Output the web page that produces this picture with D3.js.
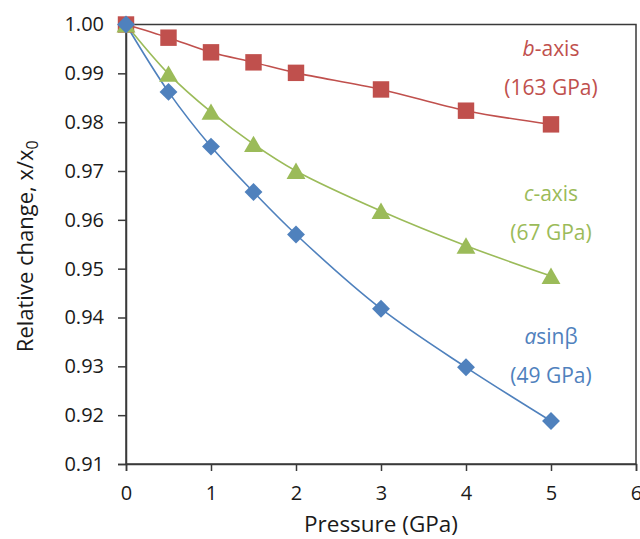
<!DOCTYPE html>
<html>
<head>
<meta charset="utf-8">
<script src="https://cdn.jsdelivr.net/npm/d3@7"></script>
<style>
  html, body { margin: 0; padding: 0; background: #fff; }
  svg { display: block; }
  text { font-family: "Open Sans", "Noto Sans", sans-serif; }
</style>
</head>
<body>
<svg id="chart" width="640" height="539"></svg>
<script>
// ---- data ----
const pressure = [0, 0.5, 1, 1.5, 2, 3, 4, 5];
const bAxis = [1.0000, 0.9973, 0.9943, 0.99225, 0.9901, 0.9867, 0.98235, 0.97955];
const cAxis = [1.0000, 0.9899, 0.9821, 0.9755, 0.9700, 0.9618, 0.9547, 0.9485];
const aSinBeta = [1.0000, 0.9862, 0.9750, 0.9657, 0.9570, 0.9418, 0.9298, 0.9188];
const xTicks = [0, 1, 2, 3, 4, 5, 6];
const yTicks = [0.91, 0.92, 0.93, 0.94, 0.95, 0.96, 0.97, 0.98, 0.99, 1.00];
const moduli = ["(163 GPa)", "(67 GPa)", "(49 GPa)"];

const colors = ["#C0504D", "#9BBB59", "#4F81BD"];

const svg = d3.select("#chart");
const L = 126, R = 636, T = 24.5, B = 464;

const x = d3.scaleLinear().domain([0, 6]).range([L, R]);
const y = d3.scaleLinear().domain([0.91, 1.00]).range([B, T]);

// frame
svg.append("rect")
  .attr("x", L).attr("y", T).attr("width", R - L).attr("height", B - T)
  .attr("fill", "none").attr("stroke", "#3a3a3a").attr("stroke-width", 1.5);

// axes
const yAxis = d3.axisLeft(y).tickValues(yTicks).tickFormat(d3.format(".2f")).tickSize(8).tickPadding(14);
const xAxis = d3.axisBottom(x).tickValues(xTicks).tickFormat(d3.format("d")).tickSize(7).tickPadding(15);

const gy = svg.append("g").attr("transform", `translate(${L},0)`).call(yAxis);
const gx = svg.append("g").attr("transform", `translate(0,${B})`).call(xAxis);
[gy, gx].forEach(g => {
  g.select(".domain").attr("stroke", "#3a3a3a").attr("stroke-width", 1.5);
  g.selectAll(".tick line").attr("stroke", "#3a3a3a").attr("stroke-width", 1.5);
  g.selectAll(".tick text").attr("fill", "#1a1a1a").style("font-size", "20px")
    .style("font-family", '"Open Sans", sans-serif');
});

// axis titles
svg.append("text")
  .attr("x", x(3)).attr("y", 532)
  .attr("text-anchor", "middle")
  .attr("fill", "#1a1a1a")
  .style("font-size", "22.5px")
  .text("Pressure (GPa)");

const yt = svg.append("text")
  .attr("transform", `translate(33,${(T + B) / 2 + 2}) rotate(-90)`)
  .attr("text-anchor", "middle")
  .attr("fill", "#1a1a1a")
  .style("font-size", "22px");
yt.append("tspan").text("Relative change, x/x");
yt.append("tspan").attr("dy", 5).style("font-size", "16px").text("0");

// series
const allSeries = [bAxis, cAxis, aSinBeta];
const line = d3.line()
  .x((d, i) => x(pressure[i]))
  .y(d => y(d))
  .curve(d3.curveCatmullRom.alpha(0.5));

allSeries.forEach((vals, k) => {
  svg.append("path")
    .datum(vals)
    .attr("d", line)
    .attr("fill", "none")
    .attr("stroke", colors[k])
    .attr("stroke-width", 1.6);
});

// markers
const symbols = [d3.symbolSquare, d3.symbolTriangle, d3.symbolSquare];
const sizes = [270, 155, 160];
const offsets = [0, 2.5, 0];
const rotations = [0, 0, 45];
allSeries.forEach((vals, k) => {
  svg.append("g").selectAll("path")
    .data(vals)
    .join("path")
    .attr("d", d3.symbol().type(symbols[k]).size(sizes[k]))
    .attr("transform", (d, i) =>
      `translate(${x(pressure[i])},${y(d) + offsets[k]}) rotate(${rotations[k]})`)
    .attr("fill", colors[k]);
});

// series labels
const labelX = 551;
const labelY = [[56, 95], [201, 240], [344, 383]];
allSeries.forEach((vals, k) => {
  const t1 = svg.append("text")
    .attr("x", labelX).attr("y", labelY[k][0])
    .attr("text-anchor", "middle")
    .attr("fill", colors[k])
    .style("font-size", "21px");
  const first = ["b", "c", "a"][k];
  const rest = ["-axis", "-axis", "sinβ"][k];
  t1.append("tspan").style("font-style", "italic").text(first);
  t1.append("tspan").text(rest);
  svg.append("text")
    .attr("x", labelX).attr("y", labelY[k][1])
    .attr("text-anchor", "middle")
    .attr("fill", colors[k])
    .style("font-size", "21px")
    .text(moduli[k]);
});
</script>
</body>
</html>
